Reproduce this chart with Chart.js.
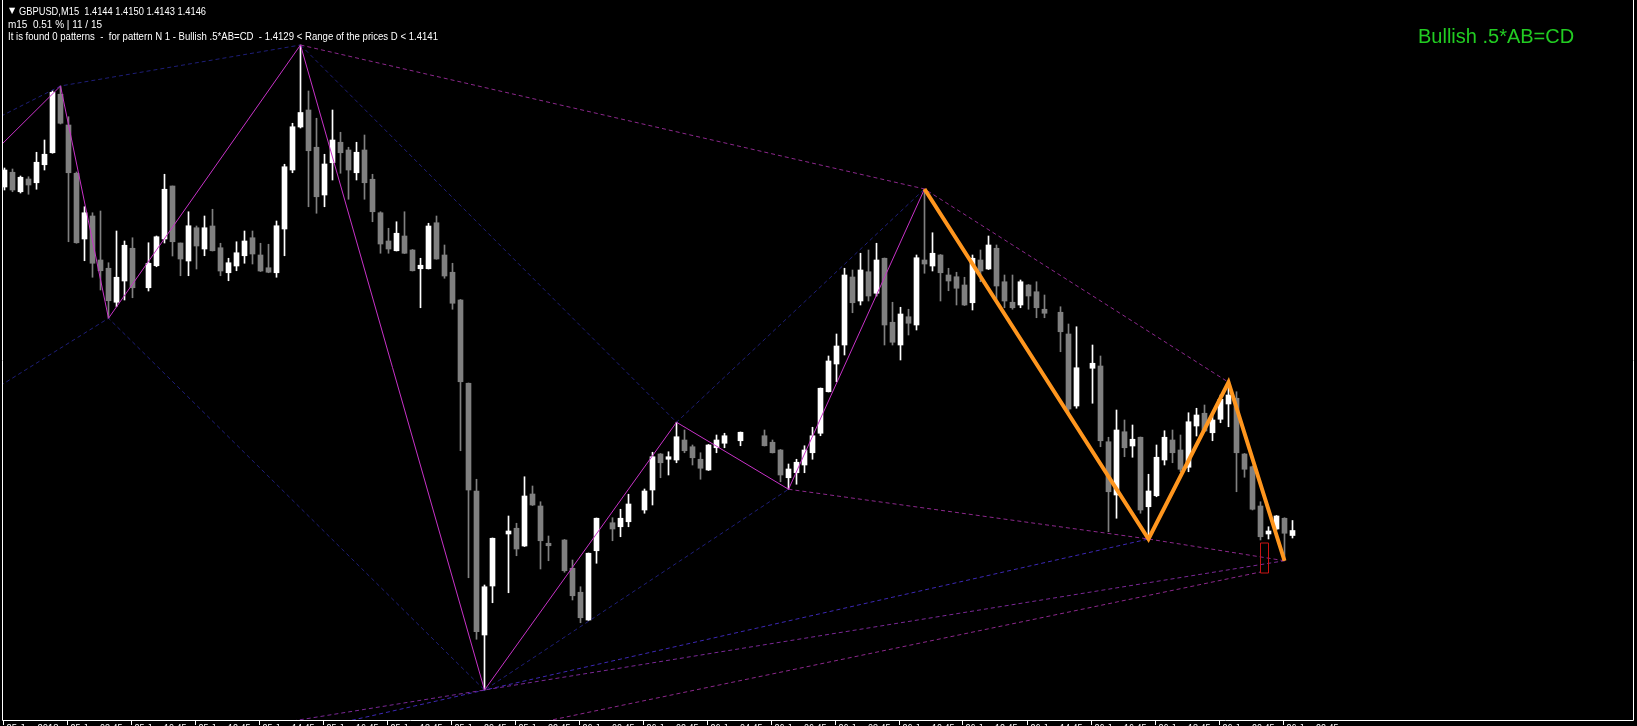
<!DOCTYPE html>
<html lang="en">
<head>
<meta charset="UTF-8">
<title>GBPUSD,M15 - Bullish .5*AB=CD</title>
<script src="https://cdn.jsdelivr.net/npm/chart.js"></script>
<style>
  html, body { margin: 0; padding: 0; background: #000; overflow: hidden; }
  #wrap { width: 1637px; height: 726px; }
</style>
</head>
<body>
<div id="wrap"><canvas id="chart" width="1637" height="726"></canvas></div>
<script>
  // M15 bars, index 0 = 25 Jan 06:45 ; null = doji drawn invisible
  const opens = [
    1.42834, 1.42893, 1.42815, 1.42866, 1.42851, 1.42923, 1.42971, 1.43205, 1.43082, 1.42889,
    1.42626, 1.42718, 1.42542, 1.42509, 1.42373, 1.42458, 1.42589, null, 1.42431, 1.42519,
    1.42626, 1.42838, 1.42610, 1.42538, 1.42671, 1.42586, 1.42678, 1.42591, 1.42491, 1.42518,
    1.42559, 1.42631, 1.42562, 1.42511, 1.42491, 1.42666, 1.42902, 1.43074, 1.43142, 1.42993,
    1.42802, 1.42931, 1.43013, 1.42982, 1.42891, 1.42982, 1.42865, 1.42731, 1.42618, 1.42579,
    1.42638, 1.42582, 1.42507, 1.42507, 1.42691, 1.42562, 1.42493, 1.42382, 1.42049, 1.41618,
    1.41042, 1.41238, null, 1.41446, 1.41469, 1.41398, 1.41606, 1.41558, 1.41409, null,
    1.41422, 1.41309, 1.41213, 1.41102, 1.41379, null, 1.41491, 1.41475, 1.41495, null,
    1.41542, 1.41622, 1.41766, 1.41745, 1.41742, 1.41822, 1.41795, 1.41745, 1.41702, 1.41791,
    1.41809, null, 1.41819, null, null, 1.41839, 1.41813, 1.41782, 1.41671, 1.41691,
    1.41722, 1.41771, 1.41849, 1.42015, 1.42126, 1.42202, 1.42474, 1.42378, 1.42495, 1.42409,
    1.42549, 1.42293, 1.42202, 1.42315, 1.42282, 1.42542, 1.42518, 1.42562, 1.42482, 1.42475,
    1.42442, 1.42371, 1.42542, 1.42506, 1.42589, 1.42455, 1.42373, 1.42362, 1.42442, 1.42415,
    1.42345, null, 1.42333, 1.42246, 1.41958, null, 1.42109, 1.42118, 1.41815, 1.41602,
    1.41855, 1.41798, 1.41833, 1.41555, 1.41599, 1.41742, 1.41822, 1.41782, 1.41713, 1.41878,
    1.41929, 1.41851, 1.41905, 1.41966, 1.41989, 1.41766, 1.41715, 1.41558, 1.41446, 1.41466,
    1.41509, 1.4144
  ];
  const highs = [
    1.42910, 1.42906, 1.42878, 1.42875, 1.42973, 1.43022, 1.43219, 1.43238, 1.43115, 1.42894,
    1.42755, 1.42731, 1.42738, 1.42531, 1.42658, 1.42618, 1.42631, null, 1.42611, 1.42638,
    1.42885, 1.42838, 1.42610, 1.42735, 1.42678, 1.42718, 1.42745, 1.42609, 1.42549, 1.42615,
    1.42658, 1.42658, 1.42609, 1.42605, 1.42698, 1.42925, 1.43089, 1.43402, 1.43218, 1.43109,
    1.42965, 1.43142, 1.43053, 1.42993, 1.43013, 1.43042, 1.42885, 1.42735, 1.42669, 1.42695,
    1.42735, 1.42584, 1.42549, 1.42689, 1.42718, 1.42602, 1.42529, 1.42384, 1.42050, 1.41665,
    1.41242, 1.41430, null, 1.41518, 1.41489, 1.41675, 1.41638, 1.41575, 1.41438, null,
    1.41424, 1.41342, 1.41235, 1.41370, 1.41510, null, 1.41511, 1.41545, 1.41605, null,
    1.41626, 1.41773, 1.41768, 1.41775, 1.41893, 1.41862, 1.41802, 1.41771, 1.41804, 1.41842,
    1.41849, null, 1.41854, null, null, 1.41862, 1.41822, 1.41784, 1.41726, 1.41745,
    1.41799, 1.41873, 1.42030, 1.42158, 1.42246, 1.42509, 1.42502, 1.42569, 1.42582, 1.42609,
    1.42550, 1.42373, 1.42353, 1.42345, 1.42562, 1.42826, 1.42651, 1.42564, 1.42509, 1.42493,
    1.42473, 1.42562, 1.42582, 1.42638, 1.42602, 1.42482, 1.42482, 1.42462, 1.42444, 1.42455,
    1.42402, null, 1.42355, 1.42286, 1.42275, null, 1.42202, 1.42158, 1.41833, 1.41942,
    1.41902, 1.41882, 1.41834, 1.41685, 1.41802, 1.41859, 1.41862, 1.41842, 1.41931, 1.41949,
    1.41962, 1.41922, 1.42002, 1.42053, 1.42015, 1.41768, 1.41718, 1.41575, 1.41475, 1.41520,
    1.41511, 1.4150
  ];
  const lows = [
    1.42822, 1.42815, 1.42810, 1.42805, 1.42825, 1.42902, 1.42969, 1.43086, 1.42615, 1.42609,
    1.42539, 1.42473, 1.42422, 1.42309, 1.42355, 1.42382, 1.42391, null, 1.42418, 1.42515,
    1.42610, 1.42558, 1.42479, 1.42479, 1.42506, 1.42559, 1.42578, 1.42479, 1.42459, 1.42499,
    1.42529, 1.42526, 1.42496, 1.42491, 1.42473, 1.42559, 1.42891, 1.43070, 1.42755, 1.42729,
    1.42755, 1.42862, 1.42889, 1.42785, 1.42862, 1.42785, 1.42695, 1.42569, 1.42569, 1.42578,
    1.42568, 1.42498, 1.42351, 1.42506, 1.42545, 1.42469, 1.42345, 1.41779, 1.41271, 1.41025,
    1.40822, 1.41171, null, 1.41211, 1.41359, 1.41396, 1.41560, 1.41306, 1.41339, null,
    1.41293, 1.41182, 1.41091, 1.41100, 1.41329, null, 1.41419, 1.41435, 1.41475, null,
    1.41529, 1.41562, 1.41671, 1.41682, 1.41731, 1.41771, 1.41722, 1.41665, 1.41700, 1.41771,
    1.41791, null, 1.41799, null, null, 1.41798, 1.41770, 1.41655, 1.41625, 1.41645,
    1.41691, 1.41745, 1.41839, 1.42014, 1.42055, 1.42162, 1.42331, 1.42362, 1.42378, 1.42398,
    1.42202, 1.42202, 1.42142, 1.42242, 1.42262, 1.42489, 1.42498, 1.42378, 1.42419, 1.42362,
    1.42360, 1.42342, 1.42455, 1.42504, 1.42385, 1.42351, 1.42345, 1.42351, 1.42345, 1.42311,
    1.42311, null, 1.42175, 1.41922, 1.41949, null, 1.41969, 1.41795, 1.41455, 1.41509,
    1.41755, 1.41753, 1.41529, 1.41426, 1.41595, 1.41722, 1.41731, 1.41695, 1.41695, 1.41838,
    1.41855, 1.41819, 1.41891, 1.41875, 1.41615, 1.41673, 1.41542, 1.41422, 1.41426, 1.41462,
    1.41339, 1.4143
  ];
  const closes = [
    1.42902, 1.42822, 1.42873, 1.42842, 1.42933, 1.42965, 1.43213, 1.43089, 1.42891, 1.42611,
    1.42731, 1.42529, 1.42499, 1.42379, 1.42473, 1.42601, 1.42431, null, 1.42529, 1.42635,
    1.42825, 1.42615, 1.42546, 1.42679, 1.42598, 1.42671, 1.42579, 1.42498, 1.42531, 1.42571,
    1.42618, 1.42566, 1.42498, 1.42493, 1.42679, 1.42915, 1.43075, 1.43132, 1.42979, 1.42795,
    1.42926, 1.43022, 1.42971, 1.42902, 1.42973, 1.42851, 1.42735, 1.42606, 1.42586, 1.42649,
    1.42569, 1.42499, 1.42521, 1.42678, 1.42546, 1.42478, 1.42369, 1.42055, 1.41622, 1.41055,
    1.41235, 1.41429, null, 1.41458, 1.41386, 1.41598, 1.41562, 1.41419, 1.41399, null,
    1.41299, 1.41199, 1.41111, 1.41369, 1.41509, null, 1.41466, 1.41509, 1.41566, null,
    1.41618, 1.41755, 1.41731, 1.41755, 1.41835, 1.41779, 1.41751, 1.41709, 1.41802, 1.41822,
    1.41839, null, 1.41853, null, null, 1.41799, 1.41771, 1.41682, 1.41706, 1.41733,
    1.41782, 1.41839, 1.42029, 1.42138, 1.42198, 1.42482, 1.42371, 1.42502, 1.42398, 1.42542,
    1.42282, 1.42213, 1.42326, 1.42289, 1.42551, 1.42526, 1.42569, 1.42491, 1.42458, 1.42429,
    1.42362, 1.42549, 1.42498, 1.42602, 1.42438, 1.42378, 1.42351, 1.42455, 1.42398, 1.42351,
    1.42329, null, 1.42255, 1.41946, 1.42111, null, 1.42129, 1.41819, 1.41615, 1.41862,
    1.41791, 1.41825, 1.41542, 1.41618, 1.41753, 1.41833, 1.41771, 1.41705, 1.41895, 1.41922,
    1.41858, 1.41902, 1.41985, 1.42002, 1.41771, 1.41705, 1.41545, 1.41435, 1.41458, 1.41518,
    1.41449, 1.4146
  ];

  // time axis: one label every 8 bars (2 hours)
  const timeLabels = [
    '25 Jan 2018', '25 Jan 08:45', '25 Jan 10:45', '25 Jan 12:45', '25 Jan 14:45', '25 Jan 16:45',
    '25 Jan 18:45', '25 Jan 20:45', '25 Jan 22:45', '26 Jan 00:45', '26 Jan 02:45', '26 Jan 04:45',
    '26 Jan 06:45', '26 Jan 08:45', '26 Jan 10:45', '26 Jan 12:45', '26 Jan 14:45', '26 Jan 16:45',
    '26 Jan 18:45', '26 Jan 20:45', '26 Jan 22:45'
  ];
  const barsPerLabel = 8;

  // zigzag pivots
  const zigIdx   = [-6, 7, 13, 37, 60, 84, 98, 115, 143, 153, 160];
  const zigPrice = [1.42825, 1.43238, 1.42309, 1.43402, 1.40822, 1.41893, 1.41625, 1.42826, 1.41426, 1.42053, 1.41339];

  // AB=CD pattern (A, B, C, D)
  const abcdIdx   = [115, 143, 153, 160];
  const abcdPrice = [1.42826, 1.41426, 1.42053, 1.41339];

  // dotted helper lines
  const navyHighIdx   = [-2, 7, 37];
  const navyHighPrice = [1.43092, 1.43238, 1.43402];
  const navyLowIdx    = [-2, 13, 60, 98];
  const navyLowPrice  = [1.42010, 1.42309, 1.40822, 1.41625];
  const navyMidIdx    = [37, 84, 115];
  const navyMidPrice  = [1.43402, 1.41893, 1.42826];
  const purpleHighIdx   = [37, 115, 153];
  const purpleHighPrice = [1.43402, 1.42826, 1.42053];
  const purpleLowIdx    = [98, 143, 160];
  const purpleLowPrice  = [1.41625, 1.41426, 1.41339];
  const blueRayIdx   = [40, 143];
  const blueRayPrice = [1.40676, 1.41426];
  const purpleRayIdx   = [30, 160];
  const purpleRayPrice = [1.40667, 1.41339];
  const pinkRayIdx   = [66, 157];
  const pinkRayPrice = [1.40686, 1.41294];

  // D zone
  const dRange = [1.4129, 1.4141];
  const dIdx = [157, 158];

  const headerLines = [
    'GBPUSD,M15  1.4144 1.4150 1.4143 1.4146',
    'm15  0.51 % | 11 / 15',
    'It is found 0 patterns  -  for pattern N 1 - Bullish .5*AB=CD  - 1.4129 < Range of the prices D < 1.4141'
  ];
  const patternName = 'Bullish .5*AB=CD';

  function pts(ix, px) {
    return ix.map((v, k) => ({ x: v, y: px[k] }));
  }

  const wickData = [], bodyData = [], candleColors = [];
  for (let i = 0; i < opens.length; i++) {
    if (opens[i] === null) continue;
    wickData.push({ x: i, y: [lows[i], highs[i]] });
    bodyData.push({ x: i, y: [opens[i], closes[i]] });
    candleColors.push(closes[i] >= opens[i] ? '#ffffff' : '#808080');
  }

  const rectPts = [
    { x: dIdx[0], y: dRange[1] }, { x: dIdx[1], y: dRange[1] },
    { x: dIdx[1], y: dRange[0] }, { x: dIdx[0], y: dRange[0] },
    { x: dIdx[0], y: dRange[1] }
  ];

  function dotted(data, color, order) {
    return {
      type: 'line', data, borderColor: color, borderWidth: 1, borderDash: [4, 3],
      pointRadius: 0, fill: false, tension: 0, order
    };
  }

  const mtFrame = {
    id: 'mtFrame',
    beforeDraw(chart) {
      const ctx = chart.ctx;
      ctx.save();
      ctx.fillStyle = '#000';
      ctx.fillRect(0, 0, chart.width, chart.height);
      ctx.restore();
    },
    afterDraw(chart) {
      const ctx = chart.ctx;
      const a = chart.chartArea;
      const xs = chart.scales.x;
      ctx.save();
      // frame
      ctx.strokeStyle = '#ffffff';
      ctx.lineWidth = 1;
      ctx.beginPath();
      ctx.moveTo(2.5, 0); ctx.lineTo(2.5, a.bottom + 0.5);
      ctx.lineTo(a.right - 0.5, a.bottom + 0.5);
      ctx.lineTo(a.right - 0.5, 0);
      ctx.stroke();

      // time ticks and labels (cut by the window bottom)
      ctx.font = '11px "Liberation Sans"';
      ctx.fillStyle = '#ffffff';
      ctx.textBaseline = 'top';
      timeLabels.forEach((t, k) => {
        const x = Math.round(xs.getPixelForValue(k * barsPerLabel)) - 1.5;
        ctx.beginPath();
        ctx.moveTo(x, a.bottom); ctx.lineTo(x, a.bottom + 5);
        ctx.stroke();
        ctx.fillText(t, x + 3, a.bottom + 3.5, 52);
      });

      // header
      ctx.textBaseline = 'middle';
      ctx.font = '8px "DejaVu Sans"';
      ctx.fillText('\u25BC', 9, 11);
      ctx.font = '11px "Liberation Sans"';
      ctx.fillText(headerLines[0], 19, 12, 187);
      ctx.fillText(headerLines[1], 8, 24.5, 94);
      ctx.fillText(headerLines[2], 8, 36.5, 430);

      // pattern name
      ctx.fillStyle = '#22cc22';
      ctx.font = '20px "Liberation Sans"';
      ctx.textBaseline = 'alphabetic';
      ctx.fillText(patternName, 1418, 42.5);
      ctx.restore();
    }
  };

  new Chart(document.getElementById('chart'), {
    type: 'bar',
    data: {
      datasets: [
        { type: 'line', data: pts(abcdIdx, abcdPrice), borderColor: '#ff961e', borderWidth: 4,
          pointRadius: 0, fill: false, tension: 0, order: 0 },
        { type: 'line', data: rectPts, borderColor: '#c81414', borderWidth: 1,
          pointRadius: 0, fill: false, tension: 0, order: 1 },
        { type: 'line', data: pts(zigIdx, zigPrice), borderColor: '#c832c8', borderWidth: 1,
          pointRadius: 0, fill: false, tension: 0, order: 2 },
        dotted(pts(purpleHighIdx, purpleHighPrice), '#8c288c', 3),
        dotted(pts(purpleLowIdx, purpleLowPrice), '#8c288c', 3),
        dotted(pts(purpleRayIdx, purpleRayPrice), '#7a2896', 3),
        dotted(pts(pinkRayIdx, pinkRayPrice), '#8c288c', 3),
        dotted(pts(blueRayIdx, blueRayPrice), '#3c28b4', 3),
        dotted(pts(navyHighIdx, navyHighPrice), '#1e1e78', 3),
        dotted(pts(navyLowIdx, navyLowPrice), '#1e1e78', 3),
        dotted(pts(navyMidIdx, navyMidPrice), '#1e1e78', 3),
        { data: bodyData, backgroundColor: candleColors, barThickness: 5, grouped: false,
          minBarLength: 1, borderWidth: 0, order: 5 },
        { data: wickData, backgroundColor: candleColors, barThickness: 1, grouped: false,
          borderWidth: 0, order: 6 }
      ]
    },
    options: {
      responsive: false,
      devicePixelRatio: 1,
      animation: false,
      layout: { padding: { left: 3, right: 3, top: 0, bottom: 6 } },
      scales: {
        x: { type: 'linear', min: -0.1875, max: 203.6875, offset: false, display: false },
        y: { type: 'linear', min: 1.40702, max: 1.43582, display: false }
      },
      plugins: { legend: { display: false }, tooltip: { enabled: false } }
    },
    plugins: [mtFrame]
  });
</script>
</body>
</html>
